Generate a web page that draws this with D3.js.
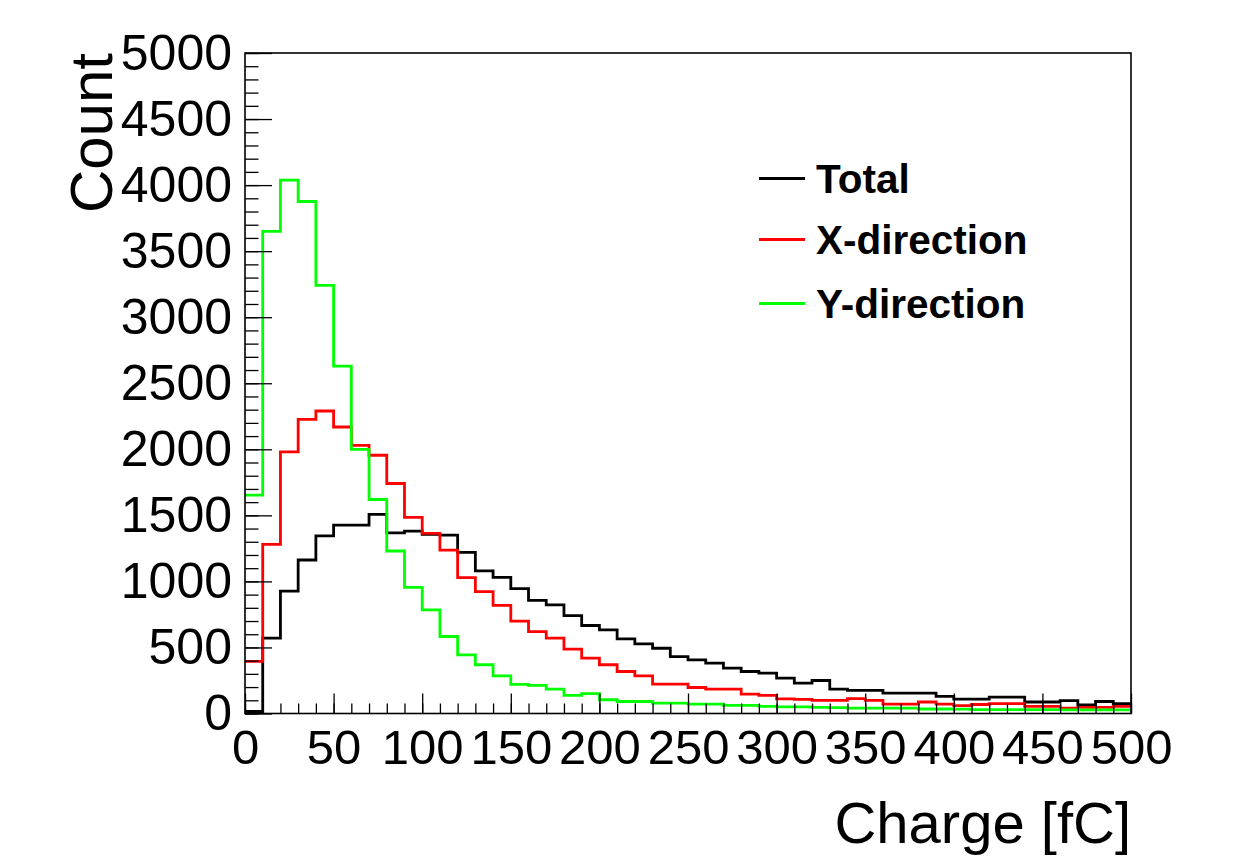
<!DOCTYPE html>
<html>
<head>
<meta charset="utf-8">
<script src="https://cdn.jsdelivr.net/npm/d3@7"></script>
<style>
  body { margin: 0; background: #fff; }
  text { font-family: "Liberation Sans", Arial, Helvetica, sans-serif; }
</style>
</head>
<body>
<svg width="1253" height="858"></svg>
<script>
// histogram bin contents, 50 bins of 10 fC from 0 to 500
var binWidth = 10;
var binLow = d3.range(0, 500, binWidth);

var total = [15, 570, 927, 1162, 1345, 1426, 1426, 1507, 1368, 1381,
  1356, 1350, 1220, 1079, 1030, 945, 857, 822, 741, 666,
  633, 565, 527, 494, 431, 406, 381, 343, 318, 306,
  268, 230, 250, 185, 175, 175, 155, 155, 155, 129,
  109, 109, 124, 124, 87, 87, 97, 66, 91, 74];

var xDir = [394, 1280, 1980, 2227, 2290, 2169, 2030, 1955, 1741, 1484,
  1363, 1237, 1028, 922, 818, 700, 620, 570, 487, 419,
  369, 318, 285, 223, 223, 197, 185, 185, 147, 137,
  110, 107, 99, 99, 112, 99, 71, 71, 87, 71,
  59, 68, 75, 75, 54, 54, 41, 46, 46, 54];

var yDir = [1653, 3649, 4037, 3876, 3241, 2629, 2000, 1620, 1230, 955,
  784, 583, 444, 369, 285, 220, 213, 185, 137, 150,
  104, 91, 91, 79, 79, 71, 71, 61, 61, 54,
  50, 50, 46, 44, 41, 41, 41, 41, 34, 34,
  33, 30, 30, 30, 29, 29, 28, 28, 28, 28];

var seriesNames = ["Total", "X-direction", "Y-direction"];
var seriesColors = ["#000000", "#ff0000", "#00ff00"];

var xTicks = d3.range(0, 501, 50);
var yTicks = d3.range(0, 5001, 500);

var svg = d3.select("svg"),
    padLeft = 245, padRight = 1131, padTop = 53, padBottom = 713.5;

var x = d3.scaleLinear().domain([0, 500]).range([padLeft, padRight]);
var y = d3.scaleLinear().domain([0, 5000]).range([padBottom, padTop]);

// histograms
var step = d3.line()
    .x(function(d) { return x(d[0]); })
    .y(function(d) { return y(d[1]); })
    .curve(d3.curveStepAfter);

[total, xDir, yDir].forEach(function(vals, k) {
  var pts = binLow.map(function(lo, i) { return [lo, vals[i]]; });
  pts.push([500, vals[vals.length - 1]]);
  svg.append("path")
      .attr("d", step(pts))
      .attr("fill", "none")
      .attr("stroke", seriesColors[k])
      .attr("stroke-width", 2.8);
});

// minor ticks
svg.append("g")
    .attr("transform", "translate(" + padLeft + ",0)")
    .call(d3.axisLeft(y).tickValues(d3.range(0, 5001, 100)).tickSize(-13.5).tickFormat("").tickSizeOuter(0))
    .call(function(g) { g.select(".domain").remove(); })
    .selectAll("line").attr("stroke-width", 1.3);

svg.append("g")
    .attr("transform", "translate(0," + padBottom + ")")
    .call(d3.axisBottom(x).tickValues(d3.range(0, 501, 10)).tickSize(-10).tickFormat("").tickSizeOuter(0))
    .call(function(g) { g.select(".domain").remove(); })
    .selectAll("line").attr("stroke-width", 1.3);

// major ticks with labels
var yAxis = svg.append("g")
    .attr("transform", "translate(" + padLeft + ",0)")
    .call(d3.axisLeft(y).tickValues(yTicks).tickSize(-27).tickPadding(13).tickFormat(d3.format("d")).tickSizeOuter(0));
yAxis.select(".domain").remove();
yAxis.selectAll("line").attr("stroke-width", 1.3);
yAxis.selectAll("text")
    .attr("font-size", 50)
    .attr("fill", "#000")
    .style("font-family", "'Liberation Sans', Arial, sans-serif");

var xAxis = svg.append("g")
    .attr("transform", "translate(0," + padBottom + ")")
    .call(d3.axisBottom(x).tickValues(xTicks).tickSize(-20).tickPadding(16).tickFormat(d3.format("d")).tickSizeOuter(0));
xAxis.select(".domain").remove();
xAxis.selectAll("line").attr("stroke-width", 1.3);
xAxis.selectAll("text")
    .attr("font-size", 49)
    .attr("fill", "#000")
    .style("font-family", "'Liberation Sans', Arial, sans-serif");

// frame
svg.append("rect")
    .attr("x", padLeft)
    .attr("y", padTop)
    .attr("width", padRight - padLeft)
    .attr("height", padBottom - padTop)
    .attr("fill", "none")
    .attr("stroke", "#000")
    .attr("stroke-width", 1.6);

// axis titles
svg.append("text")
    .attr("transform", "translate(112," + padTop + ") rotate(-90)")
    .attr("text-anchor", "end")
    .attr("font-size", 60)
    .text("Count");

svg.append("text")
    .attr("x", padRight)
    .attr("y", 843)
    .attr("text-anchor", "end")
    .attr("font-size", 58)
    .text("Charge [fC]");

// legend
var legend = svg.append("g");
var legendY = [178.5, 239.5, 303.5];
seriesNames.forEach(function(name, k) {
  legend.append("line")
      .attr("x1", 759).attr("x2", 805)
      .attr("y1", legendY[k]).attr("y2", legendY[k])
      .attr("stroke", seriesColors[k])
      .attr("stroke-width", 2.8);
  legend.append("text")
      .attr("x", 816)
      .attr("y", legendY[k] + 14.5)
      .attr("font-size", 40.5)
      .attr("font-weight", "bold")
      .text(name);
});
</script>
</body>
</html>
